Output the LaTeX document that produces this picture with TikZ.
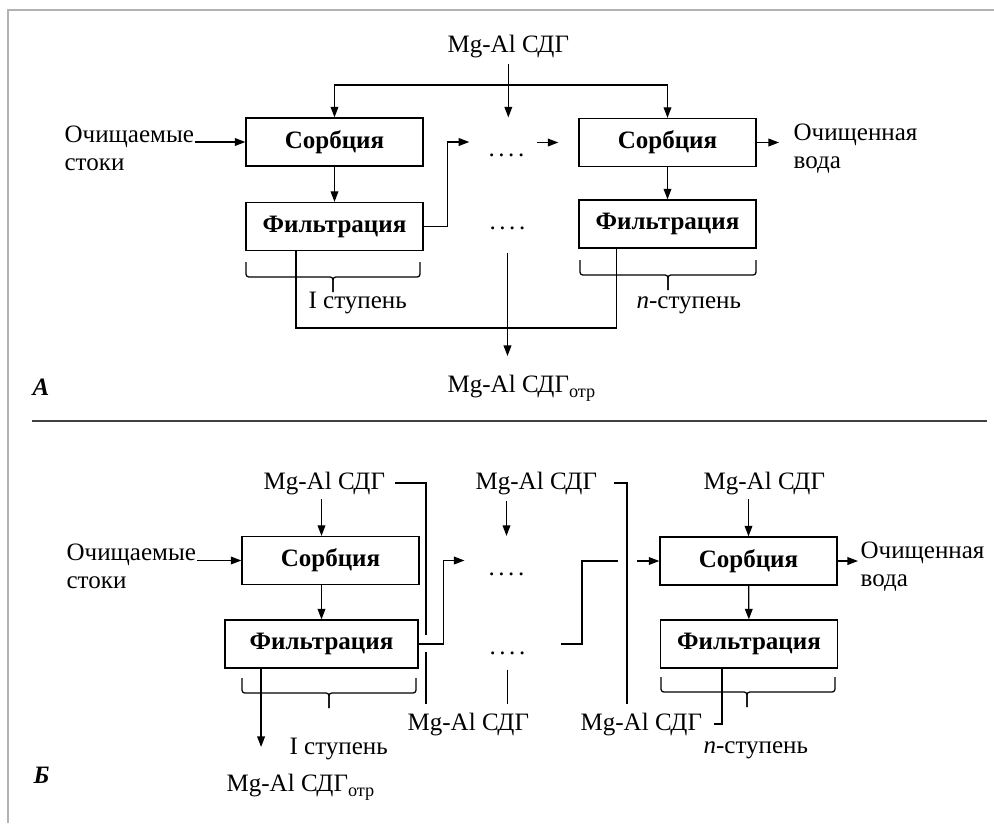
\documentclass[tikz,border=0pt]{standalone}
\usepackage{fontspec}
\setmainfont{Liberation Serif}
\usetikzlibrary{arrows.meta}
\usetikzlibrary{calc}

\newcommand{\diagfont}{\fontsize{17.8pt}{19.8pt}\selectfont}
\newcommand{\otr}{\raisebox{-0.22em}{\fontsize{13pt}{13pt}\selectfont отр}}
\newcommand{\fourdots}{.\kern2.5pt.\kern2.5pt.\kern2.5pt.}

% curly brace under a stage: left x, right x, tip x, top y
\newcommand{\stagebrace}[4]{%
    \draw[rounded corners=2pt] (#1,#4) -- (#1,#4+15) -- (#3,#4+15) -- (#3,#4+30);
    \draw[rounded corners=2pt] (#2,#4) -- (#2,#4+15) -- (#3,#4+15) -- (#3,#4+30);
}

\tikzset{
    arr/.style={-{Triangle[length=7.5pt,width=5.5pt]}},
    stagebox/.style={draw,minimum width=4.425cm,minimum height=1.2cm,inner sep=0pt,font=\diagfont\bfseries},
    lbl/.style={inner sep=0pt,anchor=base west},
    twoline/.style={inner sep=0pt,anchor=west,align=left},
    dotrow/.style={inner sep=0pt},
}

\begin{document}
\begin{tikzpicture}[x=0.025cm,y=-0.025cm,line width=0.9pt,font=\diagfont]
    \useasboundingbox (0,0) rectangle (994,823);
    \draw[black!30,line width=1pt] (8,823) -- (8,10) -- (994,10);
    \draw[black!75,line width=1.4pt] (32,421) -- (987,421);

    % scheme A
    \node[lbl] (mgA) at (447,52) {Mg-Al СДГ};
    \node[stagebox] (sorbA1) at (334.5,142) {Сорбция};
    \node[stagebox] (filtA1) at (334.5,226.5) {Фильтрация};
    \node[stagebox] (sorbAn) at (667.5,142.5) {Сорбция};
    \node[stagebox] (filtAn) at (667.5,224) {Фильтрация};
    \node[twoline] (inA) at (64,148) {Очищаемые\\стоки};
    \node[twoline] (outA) at (793,149) {Очищенная\\вода};
    \node[dotrow] (dotsA1) at (506.5,155) {\fourdots};
    \node[dotrow] (dotsA2) at (507.5,228) {\fourdots};
    \node[lbl] (stA1) at (308,308) {I ступень};
    \node[lbl] (stAn) at (636,308) {\textit{n}-ступень};
    \node[lbl] (mgOtrA) at (447,392) {Mg-Al СДГ\otr};
    \node[lbl,font=\diagfont\bfseries\itshape] (labA) at (32,395) {А};
    \coordinate (feedA) at (507,85);
    \coordinate (collA) at (507,328);

    \draw[arr,shorten <=0.14cm] (mgA.south) -- (mgA.south |- sorbA1.north);
    \draw[arr] (feedA) -| (sorbA1.north);
    \draw[arr] (feedA) -| (sorbAn.north);
    \draw[arr] (inA.east |- sorbA1.west) -- (sorbA1.west);
    \draw[arr] (sorbA1) -- (filtA1);
    \draw[arr,shorten >=0.47cm] (filtA1.east) -- ++(24,0) |- (dotsA1.west |- sorbA1.east);
    \draw[arr,shorten <=0.3cm,shorten >=0.5cm] (dotsA1.east |- sorbAn.west) -- (sorbAn.west);
    \draw[arr] (sorbAn) -- (filtAn);
    \draw[arr,shorten >=0.35cm] (sorbAn.east) -- (sorbAn.east -| outA.west);
    \stagebrace{246}{420}{333}{262}
    \stagebrace{580}{756}{668}{260}
    \draw ([xshift=-0.96cm]filtA1.south) |- (collA) -| ([xshift=-1.28cm]filtAn.south);
    \draw[arr,shorten <=0.56cm,shorten >=0.45cm] (dotsA2.south) -- (dotsA2.south |- mgOtrA.north);

    % scheme B
    \node[lbl] (mgB1) at (263,489) {Mg-Al СДГ};
    \node[lbl] (mgB2) at (475,489) {Mg-Al СДГ};
    \node[lbl] (mgB5) at (703,489) {Mg-Al СДГ};
    \node[stagebox] (sorbB1) at (330.5,560.5) {Сорбция};
    \node[stagebox,minimum width=4.825cm] (filtB1) at (321.5,644) {Фильтрация};
    \node[stagebox] (sorbBn) at (748.5,561) {Сорбция};
    \node[stagebox] (filtBn) at (749,644) {Фильтрация};
    \node[twoline] (inB) at (66,566) {Очищаемые\\стоки};
    \node[twoline] (outB) at (860,567) {Очищенная\\вода};
    \node[dotrow] (dotsB1) at (506.5,574) {\fourdots};
    \node[dotrow] (dotsB2) at (507.5,653) {\fourdots};
    \node[lbl] (mgB3) at (407,730) {Mg-Al СДГ};
    \node[lbl] (mgB4) at (580,730) {Mg-Al СДГ};
    \node[lbl] (stB1) at (289,754) {I ступень};
    \node[lbl] (stBn) at (703,753) {\textit{n}-ступень};
    \node[lbl] (mgOtrB) at (226,791) {Mg-Al СДГ\otr};
    \node[lbl,font=\diagfont\bfseries\itshape] (labB) at (33,783) {Б};
    \coordinate (hop1a) at (426,635);
    \coordinate (hop1b) at (426,652);
    \coordinate (byB2) at (627,479);
    \coordinate (riseB) at (582,561);
    \coordinate (hop2a) at (618,561);
    \coordinate (hop2b) at (637,561);

    \draw[arr] (inB.east |- sorbB1.west) -- (sorbB1.west);
    \draw[arr,shorten <=0.1cm] (filtB1.north |- mgB1.south) -- (filtB1.north |- sorbB1.north);
    \draw[arr] (filtB1.north |- sorbB1.south) -- (filtB1.north);
    \draw[arr,shorten >=0.59cm] (filtB1.east) -- ++(25,0) |- (dotsB1.west |- sorbB1.east);
    \draw[shorten <=0.24cm] (mgB1.east) -| (hop1a);
    \draw[shorten >=0.2cm] (hop1b) -- (hop1b |- mgB3.north);
    \draw[arr,shorten <=0.15cm] (dotsB1 |- mgB2.south) -- (dotsB1 |- sorbB1.north);
    \draw[shorten <=0.41cm,shorten >=0.2cm] (mgB2.east) -| (byB2 |- mgB4.north);
    \draw[shorten <=0.36cm,shorten >=0.2cm] (dotsB2.south) -- (dotsB2.south |- mgB3.north);
    \draw[shorten <=0.87cm] (dotsB2.east |- filtBn.west) -| (riseB) -- (hop2a);
    \draw[arr] (hop2b) -- (sorbBn.west);
    \draw[arr,shorten <=0.1cm] (sorbBn.north |- mgB5.south) -- (sorbBn.north);
    \draw[arr] (sorbBn) -- (filtBn);
    \draw[arr,shorten >=0.05cm] (sorbBn.east) -- (sorbBn.east -| outB.west);
    \stagebrace{242}{416}{329}{678}
    \stagebrace{661}{835}{747}{677}
    \draw[shorten >=0.29cm] ([xshift=-0.675cm]filtBn.south) |- (mgB4.east);
    \draw[arr,shorten >=0.65cm] ([xshift=-1.51cm]filtB1.south) -- ([xshift=-1.51cm]filtB1.south |- mgOtrB.north);
\end{tikzpicture}
\end{document}
